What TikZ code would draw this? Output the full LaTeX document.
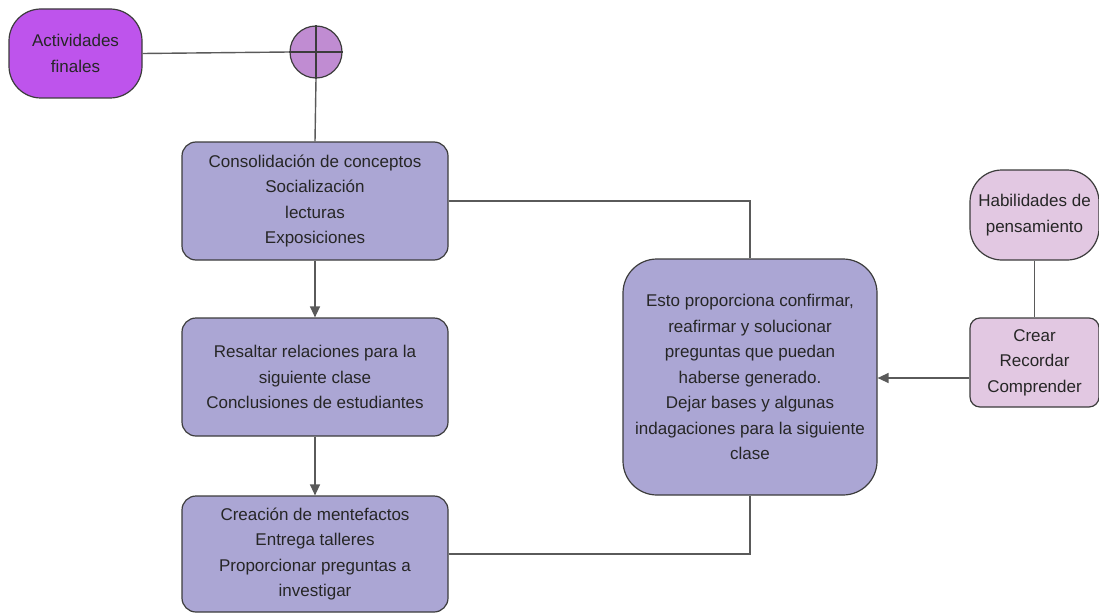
\documentclass[tikz,border=0pt]{standalone}
\usepackage{fontspec}
\setmainfont{Liberation Sans}
\usetikzlibrary{arrows.meta}
\definecolor{actv}{RGB}{190,84,236}
\definecolor{circ}{RGB}{192,140,210}
\definecolor{lav}{RGB}{171,166,212}
\definecolor{pinkish}{RGB}{226,200,226}
\definecolor{edge}{RGB}{60,60,60}
\definecolor{conn}{RGB}{90,90,90}
\begin{document}
\begin{tikzpicture}[x=1pt,y=-1pt,
  box/.style={draw=edge,line width=1.2pt,fill=lav,rounded corners=14pt,align=center,inner sep=0pt,
    font=\fontsize{17}{25.5}\selectfont,text=black!85},
  conn/.style={draw=conn,line width=1.4pt},
  arr/.style={conn,-{Triangle[length=11pt,width=10pt]}}]
\useasboundingbox (0,0) rectangle (1099,615);
\node[box,fill=actv,rounded corners=32pt,minimum width=133pt,minimum height=89pt] (act) at (75.5,53.5) {Actividades\\finales};
\node[draw=edge,line width=1.2pt,fill=circ,circle,minimum size=52pt,inner sep=0pt] (circ) at (316,52) {};
\draw[edge,line width=1.2pt] (circ.north) -- (circ.south) (circ.west) -- (circ.east);
\node[box,minimum width=266pt,minimum height=118pt] (b1) at (315,201) {Consolidación de conceptos\\Socialización\\lecturas\\Exposiciones};
\node[box,minimum width=266pt,minimum height=118pt] (b2) at (315,377) {Resaltar relaciones para la\\siguiente clase\\Conclusiones de estudiantes};
\node[box,minimum width=266pt,minimum height=116pt] (b3) at (315,554) {Creación de mentefactos\\Entrega talleres\\Proporcionar preguntas a\\investigar};
\node[box,rounded corners=34pt,minimum width=254pt,minimum height=236pt] (b4) at (750,377) {Esto proporciona confirmar,\\reafirmar y solucionar\\preguntas que puedan\\haberse generado.\\Dejar bases y algunas\\indagaciones para la siguiente\\clase};
\node[box,fill=pinkish,rounded corners=32pt,minimum width=129pt,minimum height=90pt] (hab) at (1034.5,215) {Habilidades de\\pensamiento};
\node[box,fill=pinkish,rounded corners=10pt,minimum width=129pt,minimum height=89pt] (cre) at (1034.5,362.5) {Crear\\Recordar\\Comprender};
\draw[conn] (act.east) -- (circ.west);
\draw[conn] (circ.south) -- (b1.north);
\draw[arr] (b1.south) -- (b2.north);
\draw[arr] (b2.south) -- (b3.north);
\draw[conn] (b1.east) -- (b4.north |- b1.east) -- (b4.north);
\draw[conn] (b3.east) -- (b4.south |- b3.east) -- (b4.south);
\draw[conn] (hab.south) -- (hab.south |- cre.north);
\draw[arr] (cre.west |- 0,378) -- (b4.east |- 0,378);
\end{tikzpicture}
\end{document}
